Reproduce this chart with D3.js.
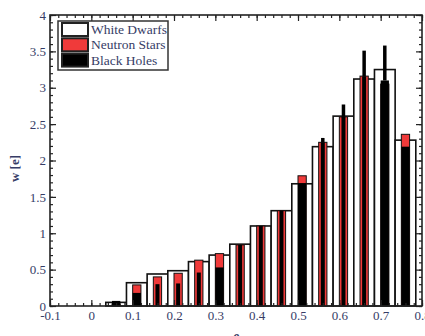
<!DOCTYPE html>
<html>
<head>
<meta charset="utf-8">
<script src="https://cdn.jsdelivr.net/npm/d3@7"></script>
<style>
  body { margin: 0; background: #fff; }
  svg { display: block; }
</style>
</head>
<body>
<div id="chart"></div>
<script>
// eccentricity histogram - white dwarfs / neutron stars / black holes

// data
var binCenters = [0.06, 0.11, 0.16, 0.21, 0.26, 0.31, 0.36, 0.41, 0.46, 0.51, 0.56, 0.61, 0.66, 0.71, 0.76];
var whiteDwarfs = [0.05, 0.32, 0.44, 0.485, 0.61, 0.70, 0.85, 1.10, 1.31, 1.68, 2.19, 2.61, 3.12, 3.25, 2.28];
var neutronStars = [0.03, 0.29, 0.40, 0.45, 0.63, 0.72, 0.84, 1.10, 1.31, 1.79, 2.25, 2.60, 3.16, 3.05, 2.36];
var blackHoles = [0.07, 0.18, 0.30, 0.31, 0.46, 0.53, 0.84, 1.10, 1.31, 1.69, 2.25, 2.60, 3.15, 3.10, 2.19];
var blackHoleErr = [0, 0, 0, 0, 0, 0, 0, 0, 0, 0, 0.06, 0.17, 0.36, 0.48, 0];
var xTicks = [-0.1, 0, 0.1, 0.2, 0.3, 0.4, 0.5, 0.6, 0.7, 0.8];
var yTicks = [0, 0.5, 1, 1.5, 2, 2.5, 3, 3.5, 4];
var legendLabels = ["White Dwarfs", "Neutron Stars", "Black Holes"];

// bins where the black bar fills the red one
var wideBlack = [0.06, 0.11, 0.31, 0.51, 0.71, 0.76];

// variables
var w = 425, h = 336;
var mLeft = 50, mRight = 422, mTop = 15, mBottom = 306;
var red = '#f03a3a';
var textColor = '#363c66';
var binWidth = 0.05;

var x = d3.scaleLinear().domain([-0.1, 0.8]).range([mLeft, mRight]);
var y = d3.scaleLinear().domain([0, 4]).range([mBottom, mTop]);
var fmt = function(d) { return String(+d.toFixed(2)); };

var svg = d3.select("#chart").append("svg")
    .attr("width", w)
    .attr("height", h);

var bins = binCenters.map(function(c, i) {
    return {c: c, wd: whiteDwarfs[i], ns: neutronStars[i], bh: blackHoles[i], err: blackHoleErr[i]};
});

var bw = x(binWidth) - x(0);
var rw = x(0.02) - x(0);
var nw = 4;

// white dwarfs
svg.append("g").selectAll("rect")
    .data(bins).enter().append("rect")
    .attr("x", function(d) { return x(d.c - binWidth / 2); })
    .attr("width", bw)
    .attr("y", function(d) { return y(d.wd); })
    .attr("height", function(d) { return y(0) - y(d.wd); })
    .attr("fill", "#fff")
    .attr("stroke", "#111")
    .attr("stroke-width", 1.6);

// neutron stars
svg.append("g").selectAll("rect")
    .data(bins).enter().append("rect")
    .attr("x", function(d) { return x(d.c) - rw / 2; })
    .attr("width", rw)
    .attr("y", function(d) { return y(d.ns); })
    .attr("height", function(d) { return y(0) - y(d.ns); })
    .attr("fill", red)
    .attr("stroke", "#111")
    .attr("stroke-width", 1);

// black holes
svg.append("g").selectAll("rect")
    .data(bins).enter().append("rect")
    .attr("x", function(d) { return x(d.c) - (wideBlack.indexOf(d.c) >= 0 ? rw : nw) / 2; })
    .attr("width", function(d) { return wideBlack.indexOf(d.c) >= 0 ? rw : nw; })
    .attr("y", function(d) { return y(d.bh); })
    .attr("height", function(d) { return y(0) - y(d.bh); })
    .attr("fill", "#000");

// error bars
svg.append("g").selectAll("line")
    .data(bins.filter(function(d) { return d.err > 0; })).enter().append("line")
    .attr("x1", function(d) { return x(d.c); })
    .attr("x2", function(d) { return x(d.c); })
    .attr("y1", function(d) { return y(d.bh); })
    .attr("y2", function(d) { return y(d.bh + d.err); })
    .attr("stroke", "#000")
    .attr("stroke-width", 3.5);

// axes - ticks inward on all four sides
var xMinor = d3.range(-5, 41).map(function(i) { return i * 0.02; });
var yMinor = d3.range(0, 41).map(function(i) { return i * 0.1; });

function styleAxis(g) {
    g.select(".domain").remove();
    g.selectAll("line").attr("stroke", "#222").attr("stroke-width", 1.2);
    g.selectAll("text")
        .attr("fill", textColor)
        .style("font-family", "'Liberation Serif', serif")
        .style("font-size", "13px");
}

svg.append("g").attr("transform", "translate(0," + mBottom + ")")
    .call(d3.axisBottom(x).tickValues(xMinor).tickSize(-3).tickFormat(""))
    .call(styleAxis);
svg.append("g").attr("transform", "translate(0," + mBottom + ")")
    .call(d3.axisBottom(x).tickValues(xTicks).tickSize(-6).tickPadding(5).tickFormat(fmt))
    .call(styleAxis);
svg.append("g").attr("transform", "translate(0," + mTop + ")")
    .call(d3.axisTop(x).tickValues(xMinor).tickSize(-3).tickFormat(""))
    .call(styleAxis);
svg.append("g").attr("transform", "translate(0," + mTop + ")")
    .call(d3.axisTop(x).tickValues(xTicks).tickSize(-6).tickFormat(""))
    .call(styleAxis);

svg.append("g").attr("transform", "translate(" + mLeft + ",0)")
    .call(d3.axisLeft(y).tickValues(yMinor).tickSize(-3).tickFormat(""))
    .call(styleAxis);
svg.append("g").attr("transform", "translate(" + mLeft + ",0)")
    .call(d3.axisLeft(y).tickValues(yTicks).tickSize(-6).tickPadding(4).tickFormat(fmt))
    .call(styleAxis);
svg.append("g").attr("transform", "translate(" + mRight + ",0)")
    .call(d3.axisRight(y).tickValues(yMinor).tickSize(-3).tickFormat(""))
    .call(styleAxis);
svg.append("g").attr("transform", "translate(" + mRight + ",0)")
    .call(d3.axisRight(y).tickValues(yTicks).tickSize(-6).tickFormat(""))
    .call(styleAxis);

// frame
svg.append("rect")
    .attr("x", mLeft).attr("y", mTop)
    .attr("width", mRight - mLeft).attr("height", mBottom - mTop)
    .attr("fill", "none")
    .attr("stroke", "#222")
    .attr("stroke-width", 1.6);

// axis titles
svg.append("text")
    .attr("transform", "translate(19," + ((mTop + mBottom) / 2 + 8) + ") rotate(-90)")
    .attr("text-anchor", "middle")
    .attr("fill", textColor)
    .style("font-family", "'Liberation Serif', serif")
    .style("font-size", "13px")
    .style("font-weight", "bold")
    .text("w [e]");

svg.append("text")
    .attr("x", (mLeft + mRight) / 2)
    .attr("y", 341)
    .attr("text-anchor", "middle")
    .attr("fill", textColor)
    .style("font-family", "'Liberation Serif', serif")
    .style("font-size", "14px")
    .style("font-style", "italic")
    .style("font-weight", "bold")
    .text("e");

// legend
var legend = svg.append("g").attr("transform", "translate(58,21)");
legend.append("rect")
    .attr("width", 110).attr("height", 49)
    .attr("fill", "#fff")
    .attr("stroke", "#333")
    .attr("stroke-width", 1.5);

var swatchFill = ["#fff", red, "#000"];
var item = legend.selectAll(".item")
    .data(legendLabels).enter().append("g")
    .attr("transform", function(d, i) { return "translate(4," + (2 + i * 15.3) + ")"; });
item.append("rect")
    .attr("width", 26).attr("height", 13)
    .attr("fill", function(d, i) { return swatchFill[i]; })
    .attr("stroke", "#222")
    .attr("stroke-width", 2);
item.append("text")
    .attr("x", 29).attr("y", 11)
    .attr("fill", textColor)
    .style("font-family", "'Liberation Serif', serif")
    .style("font-size", "13.5px")
    .text(function(d) { return d; });

// end of chart
</script>
</body>
</html>
